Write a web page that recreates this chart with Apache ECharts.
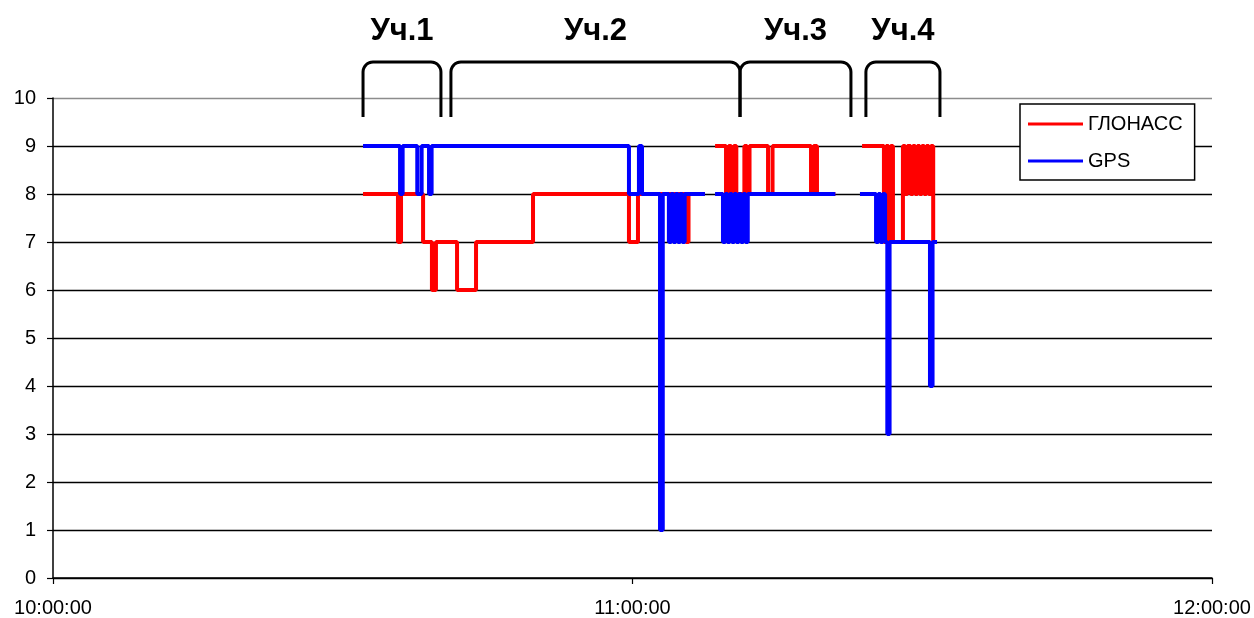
<!DOCTYPE html>
<html>
<head>
<meta charset="utf-8">
<script src="https://cdn.jsdelivr.net/npm/echarts@6/dist/echarts.min.js"></script>
<style>
  html, body { margin: 0; padding: 0; background: #fff; }
  #chart { width: 1254px; height: 618px; }
</style>
</head>
<body>
<div id="chart"></div>
<script>
// Number of visible satellites over time, ГЛОНАСС vs GPS (null = no record)
const glonassTimes = [
  '10:32:06', '10:35:43', '10:36:02', '10:38:19', '10:39:14', '10:39:39',
  '10:41:50', '10:43:48', '10:49:42', '10:59:38', '11:00:34', '11:05:32', '11:05:48', '11:06:41',
  '11:07:30',
  '11:08:33', '11:09:41', '11:09:57', '11:10:13', '11:10:29', '11:10:45', '11:11:35', '11:11:51',
  '11:12:07', '11:14:02', '11:14:30', '11:18:29', '11:18:45', '11:19:06',
  '11:21:00',
  '11:23:46', '11:26:02', '11:26:16', '11:26:30', '11:26:44', '11:26:58',
  '11:28:00', '11:28:14', '11:28:28', '11:28:48',
  '11:29:02', '11:29:16', '11:29:30', '11:29:44', '11:29:58', '11:30:12', '11:30:26', '11:30:40',
  '11:30:54', '11:31:08'
];
const glonassValues = [
  8, 7, 8, 7, 6, 7,
  6, 7, 8, 7, 8, 7, 8, 8,
  null,
  9, 8, 9, 8, 9, 8, 9, 8,
  9, 8, 9, 8, 9, 8,
  null,
  9, 7, 9, 7, 9, 7,
  9, 8, 9, 8,
  9, 8, 9, 8, 9, 8, 9, 8,
  9, 7
];

const gpsTimes = [
  '10:32:06', '10:35:56', '10:36:12', '10:37:43', '10:38:10', '10:38:56', '10:39:12',
  '10:59:38', '11:00:40', '11:00:59', '11:02:51', '11:03:08',
  '11:03:46', '11:04:00', '11:04:14', '11:04:28', '11:04:42', '11:04:56', '11:05:10', '11:05:24',
  '11:06:41',
  '11:07:30',
  '11:08:33', '11:09:22', '11:09:36', '11:09:50', '11:10:04', '11:10:18', '11:10:32', '11:10:46',
  '11:11:00', '11:11:14', '11:11:28', '11:11:42', '11:11:56', '11:19:06',
  '11:21:00',
  '11:23:33', '11:25:13', '11:25:27', '11:25:41', '11:25:55', '11:26:09', '11:26:23', '11:26:37',
  '11:30:48', '11:31:04', '11:31:32'
];
const gpsValues = [
  9, 8, 9, 8, 9, 8, 9,
  8, 9, 8, 1, 8,
  7, 8, 7, 8, 7, 8, 7, 8,
  8,
  null,
  8, 7, 8, 7, 8, 7, 8, 7,
  8, 7, 8, 7, 8, 8,
  null,
  8, 7, 8, 7, 8, 7, 3, 7,
  4, 7, 7
];

// Survey sections marked with brackets above the plot
const sectionNames = ['Уч.1', 'Уч.2', 'Уч.3', 'Уч.4'];
const sectionStarts = ['10:32:06', '10:41:12', '11:11:08', '11:24:10'];
const sectionEnds = ['10:40:10', '11:11:08', '11:22:37', '11:31:50'];

const yTicks = [0, 1, 2, 3, 4, 5, 6, 7, 8, 9, 10];
const axisStart = '10:00:00';
const axisEnd = '12:00:00';
const axisStep = 3600;

function toSec(t) {
  const p = t.split(':').map(Number);
  return p[0] * 3600 + p[1] * 60 + p[2];
}
function fmt(sec) {
  const h = Math.floor(sec / 3600);
  const m = Math.floor((sec % 3600) / 60);
  const s = sec % 60;
  const pad = n => String(n).padStart(2, '0');
  return pad(h) + ':' + pad(m) + ':' + pad(s);
}
function pairs(times, values) {
  return times.map((t, i) => [toSec(t), values[i] === null ? '-' : values[i]]);
}

const FONT = '"Liberation Sans", Arial, sans-serif';
const gridTop = 98;
const LINE_W = 4;

const chart = echarts.init(document.getElementById('chart'), null, { renderer: 'canvas' });

const gridColors = yTicks.map(v => (v === yTicks[yTicks.length - 1] ? '#8c8c8c' : '#000'));

chart.setOption({
  animation: false,
  backgroundColor: '#fff',
  grid: { left: 53, right: 42, top: gridTop, bottom: 40, containLabel: false },
  xAxis: {
    type: 'value',
    min: toSec(axisStart),
    max: toSec(axisEnd),
    interval: axisStep,
    axisLine: { show: true, lineStyle: { color: '#000', width: 1.5 } },
    axisTick: { show: true, inside: false, length: 6, lineStyle: { color: '#000', width: 1.2 } },
    axisLabel: { fontSize: 20, fontFamily: FONT, color: '#000', margin: 20, formatter: v => fmt(v) },
    splitLine: { show: false }
  },
  yAxis: {
    type: 'value',
    min: yTicks[0],
    max: yTicks[yTicks.length - 1],
    interval: 1,
    axisLine: { show: true, onZero: false, lineStyle: { color: '#000', width: 1.5 } },
    axisTick: { show: true, inside: false, length: 6, lineStyle: { color: '#000', width: 1.2 } },
    axisLabel: { fontSize: 20, fontFamily: FONT, color: '#000', margin: 17 },
    splitLine: { show: true, lineStyle: { color: gridColors, width: 1.4 } }
  },
  legend: {
    orient: 'vertical',
    left: 1020,
    top: 104,
    icon: 'rect',
    itemWidth: 55,
    itemHeight: 3,
    itemGap: 17,
    padding: [10, 12, 9, 8],
    backgroundColor: '#fff',
    borderColor: '#000',
    borderWidth: 1.5,
    textStyle: { fontSize: 20, fontFamily: FONT, color: '#000' },
    data: ['ГЛОНАСС', 'GPS']
  },
  series: [
    {
      name: 'ГЛОНАСС',
      type: 'line',
      step: 'end',
      symbol: 'none',
      connectNulls: false,
      color: '#ff0000',
      lineStyle: { width: LINE_W, color: '#ff0000' },
      data: pairs(glonassTimes, glonassValues)
    },
    {
      name: 'GPS',
      type: 'line',
      step: 'end',
      symbol: 'none',
      connectNulls: false,
      color: '#0000ff',
      lineStyle: { width: LINE_W, color: '#0000ff' },
      data: pairs(gpsTimes, gpsValues)
    }
  ]
});

// Brackets and section captions placed from the x scale
function bracePoints(x0, x1, yTop, yBottom, r) {
  const pts = [[x0, yBottom], [x0, yTop + r]];
  for (let k = 1; k <= 8; k++) {
    const a = Math.PI + (Math.PI / 2) * (k / 8);
    pts.push([x0 + r + r * Math.cos(a), yTop + r + r * Math.sin(a)]);
  }
  pts.push([x1 - r, yTop]);
  for (let k = 1; k <= 8; k++) {
    const a = -Math.PI / 2 + (Math.PI / 2) * (k / 8);
    pts.push([x1 - r + r * Math.cos(a), yTop + r + r * Math.sin(a)]);
  }
  pts.push([x1, yBottom]);
  return pts;
}

const graphics = [];
sectionNames.forEach((name, i) => {
  const x0 = chart.convertToPixel({ xAxisIndex: 0 }, toSec(sectionStarts[i]));
  const x1 = chart.convertToPixel({ xAxisIndex: 0 }, toSec(sectionEnds[i]));
  graphics.push({
    type: 'polyline',
    z: 100,
    shape: { points: bracePoints(x0, x1, gridTop - 36, gridTop + 19, 10) },
    style: { stroke: '#000', lineWidth: 3, fill: null, lineJoin: 'round' }
  });
  graphics.push({
    type: 'text',
    z: 100,
    x: (x0 + x1) / 2,
    y: 31,
    style: {
      text: name,
      fill: '#000',
      font: 'bold 31px ' + FONT,
      textAlign: 'center',
      textVerticalAlign: 'middle'
    }
  });
});
chart.setOption({ graphic: graphics });
</script>
</body>
</html>
